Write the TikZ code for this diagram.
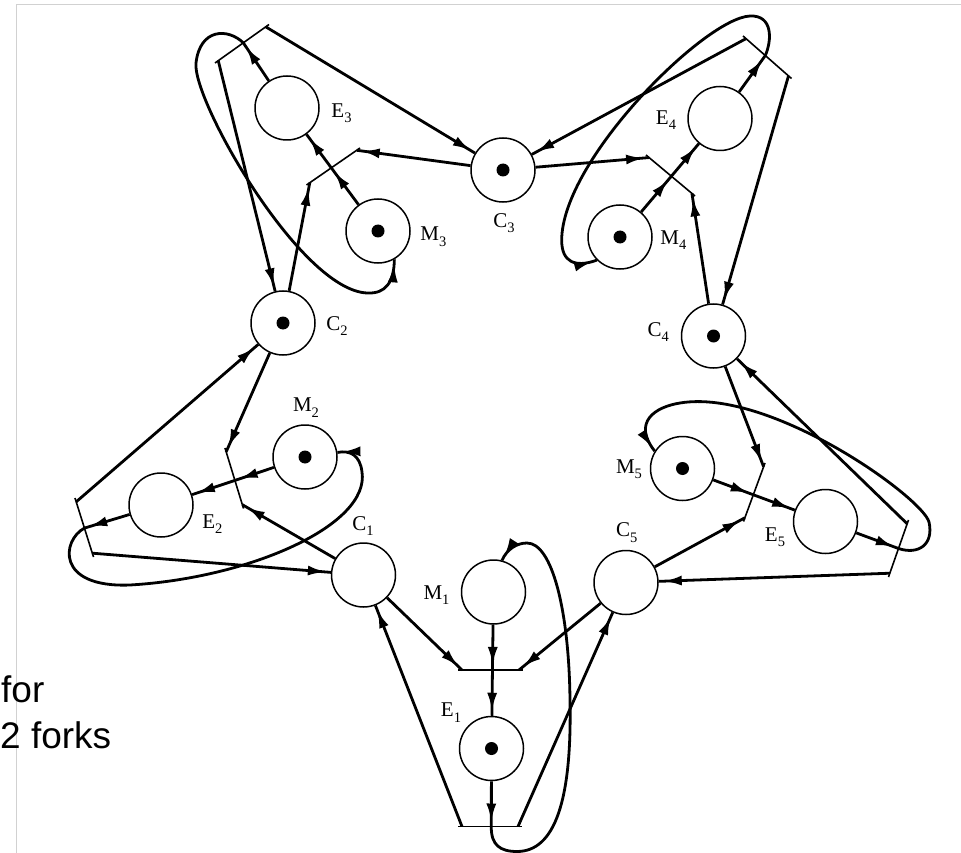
\documentclass[tikz,border=0pt]{standalone}
\usepackage{fontspec}
\setmainfont{Liberation Serif}
\newfontfamily\capfont{Liberation Sans}
\usetikzlibrary{arrows.meta,decorations.markings,calc}
\newcommand{\plab}[2]{#1\raisebox{-5.5pt}{\fontsize{14.5}{14.5}\selectfont #2}}
\begin{document}
\begin{tikzpicture}[x=1pt,y=-1pt,
  place/.style={circle,draw,line width=1.5pt,minimum size=64pt,inner sep=0pt},
  arc/.style={line width=2.8pt,postaction={decorate},
    decoration={markings,mark=at position -5pt with {\arrow{Latex[length=18pt,width=10pt]}}}},
  loopline/.style={arc},
  bar/.style={line width=1.6pt},
  lbl/.style={inner sep=0pt,font=\fontsize{21}{24}\selectfont},
  token/.style={circle,fill,inner sep=0pt,minimum size=13pt},
  frameline/.style={draw=black!18,line width=1pt},
  captext/.style={inner sep=0pt,anchor=base west,font=\capfont\fontsize{37}{44}\selectfont}]
\useasboundingbox (0,0) rectangle (961,853);
\clip (0,0) rectangle (961,853);
\fill[white] (0,0) rectangle (961,853);

% frame of the slide
\draw[frameline] (16,853) -- (16,4.5) -- (961,4.5);

% places
\node[place] (C1) at (363.5,575) {};
\node[place] (C2) at (283,323) {};
\node[place] (C3) at (503,170) {};
\node[place] (C4) at (713.5,336) {};
\node[place] (C5) at (626,582.5) {};
\node[place] (M1) at (493.5,592) {};
\node[place] (M2) at (305,457) {};
\node[place] (M3) at (378,231) {};
\node[place] (M4) at (620,237) {};
\node[place] (M5) at (682.5,468.5) {};
\node[place] (E1) at (491.5,748.5) {};
\node[place] (E2) at (161,505) {};
\node[place] (E3) at (287,108) {};
\node[place] (E4) at (720,118.5) {};
\node[place] (E5) at (825.5,521.5) {};

% tokens
\node[token] (tC2) at (C2) {};
\node[token] (tC3) at (C3) {};
\node[token] (tC4) at (C4) {};
\node[token] (tM2) at (M2) {};
\node[token] (tM3) at (M3) {};
\node[token] (tM4) at (M4) {};
\node[token] (tM5) at (M5) {};
\node[token] (tE1) at (E1) {};

% labels
\node[lbl] (lC1) at (363,526) {\plab{C}{1}};
\node[lbl] (lC2) at (337,326) {\plab{C}{2}};
\node[lbl] (lC3) at (504,223) {\plab{C}{3}};
\node[lbl] (lC4) at (658.3,332) {\plab{C}{4}};
\node[lbl] (lC5) at (626.7,532.5) {\plab{C}{5}};
\node[lbl] (lM1) at (436.5,595) {\plab{M}{1}};
\node[lbl] (lM2) at (306,407.5) {\plab{M}{2}};
\node[lbl] (lM3) at (433.3,236.7) {\plab{M}{3}};
\node[lbl] (lM4) at (673.3,240) {\plab{M}{4}};
\node[lbl] (lM5) at (629,469) {\plab{M}{5}};
\node[lbl] (lE1) at (451,712.5) {\plab{E}{1}};
\node[lbl] (lE2) at (212.3,524) {\plab{E}{2}};
\node[lbl] (lE3) at (341.5,113) {\plab{E}{3}};
\node[lbl] (lE4) at (666,120) {\plab{E}{4}};
\node[lbl] (lE5) at (775,537) {\plab{E}{5}};

% transition bars: end points
\coordinate (A1s) at (458,670);     \coordinate (A1e) at (523,670);
\coordinate (R1s) at (458,826.5);   \coordinate (R1e) at (522,826.5);
\coordinate (A2s) at (225,448);     \coordinate (A2e) at (243.5,508.5);
\coordinate (R2s) at (75,498);      \coordinate (R2e) at (93.5,557);
\coordinate (A3s) at (306.5,185);   \coordinate (A3e) at (360,148);
\coordinate (R3s) at (215,63);      \coordinate (R3e) at (269,24.5);
\coordinate (A4s) at (646,155);     \coordinate (A4e) at (695,196);
\coordinate (R4s) at (743,36);      \coordinate (R4e) at (791.5,78.5);
\coordinate (A5s) at (765,463);     \coordinate (A5e) at (743.5,521.5);
\coordinate (R5s) at (908.5,520);   \coordinate (R5e) at (888.5,577);

% attachment points
\foreach \t in {A1,R1,A2,R2,A3,R3,A4,R4,A5,R5}{
  \coordinate (\t p) at ($(\t s)!4pt!(\t e)$);
  \coordinate (\t q) at ($(\t e)!4pt!(\t s)$);
}
\coordinate (A1m) at (intersection of M1--E1 and A1s--A1e);
\coordinate (A2m) at (intersection of M2--E2 and A2s--A2e);
\coordinate (A3m) at (intersection of M3--E3 and A3s--A3e);
\coordinate (A4m) at (intersection of M4--E4 and A4s--A4e);
\coordinate (A5m) at (intersection of M5--E5 and A5s--A5e);
\coordinate (R1m) at ($(R1s)!0.52!(R1e)$);
\coordinate (R2m) at ($(R2s)!0.51!(R2e)$);
\coordinate (R3m) at ($(R3s)!0.524!(R3e)$);
\coordinate (R4m) at ($(R4s)!0.46!(R4e)$);
\coordinate (R5m) at ($(R5s)!0.5!(R5e)$);

% bars
\foreach \t in {A1,R1,A2,R2,A3,R3,A4,R4,A5,R5}{
  \draw[bar] (\t s) -- (\t e);
}

% philosopher 1
\draw[arc] (C1) -- (A1p);
\draw[arc] (C5) -- (A1q);
\draw[arc] (M1) -- (A1m);
\draw[arc] (A1m) -- (E1);
\draw[arc] (E1) -- (R1m);
\draw[arc] (R1p) -- (C1);
\draw[arc] (R1q) -- (C5);
\draw[loopline] (R1m) .. controls (491,845) and (500,851.5) .. (517,851.5)
  .. controls (555,851.5) and (572,800) .. (570,700)
  .. controls (569,610) and (552,543) .. (527,543)
  .. controls (517,543) and (507,549) .. (M1.75);

% philosopher 2
\draw[arc] (C2) -- (A2p);
\draw[arc] (C1) -- (A2q);
\draw[arc] (M2) -- (A2m);
\draw[arc] (A2m) -- (E2);
\draw[arc] (E2) -- (R2m);
\draw[arc] (R2p) -- (C2);
\draw[arc] (R2q) -- (C1);
\draw[loopline] (R2m) .. controls (62,540) and (55,588) .. (130,585)
  .. controls (250,578) and (370,525) .. (362,472)
  .. controls (360,455) and (350,450) .. (M2.8);

% philosopher 3
\draw[arc] (C2) -- (A3p);
\draw[arc] (C3) -- (A3q);
\draw[arc] (M3) -- (A3m);
\draw[arc] (A3m) -- (E3);
\draw[arc] (E3) -- (R3m);
\draw[arc] (R3p) -- (C2);
\draw[arc] (R3q) -- (C3);
\draw[loopline] (R3m) .. controls (228,28) and (200,28) .. (196,63)
  .. controls (192,100) and (300,290) .. (367,293)
  .. controls (386,294) and (394,282) .. (M3.-60);

% philosopher 4
\draw[arc] (C3) -- (A4p);
\draw[arc] (C4) -- (A4q);
\draw[arc] (M4) -- (A4m);
\draw[arc] (A4m) -- (E4);
\draw[arc] (E4) -- (R4m);
\draw[arc] (R4p) -- (C3);
\draw[arc] (R4q) -- (C4);
\draw[loopline] (R4m) .. controls (772,40) and (773,15) .. (750,16)
  .. controls (705,18) and (562,160) .. (561.7,240)
  .. controls (561.5,262) and (575,268) .. (M4.225);

% philosopher 5
\draw[arc] (C4) -- (A5p);
\draw[arc] (C5) -- (A5q);
\draw[arc] (M5) -- (A5m);
\draw[arc] (A5m) -- (E5);
\draw[arc] (E5) -- (R5m);
\draw[arc] (R5p) -- (C4);
\draw[arc] (R5q) -- (C5);
\draw[loopline] (R5m) .. controls (918,555) and (934,545) .. (929,522)
  .. controls (922,497) and (770,388) .. (680,403)
  .. controls (655,407) and (632,422) .. (M5.148);

% slide text
\node[captext] (t1) at (1,702) {for};
\node[captext] (t2) at (0,748) {2 forks};
\end{tikzpicture}
\end{document}
